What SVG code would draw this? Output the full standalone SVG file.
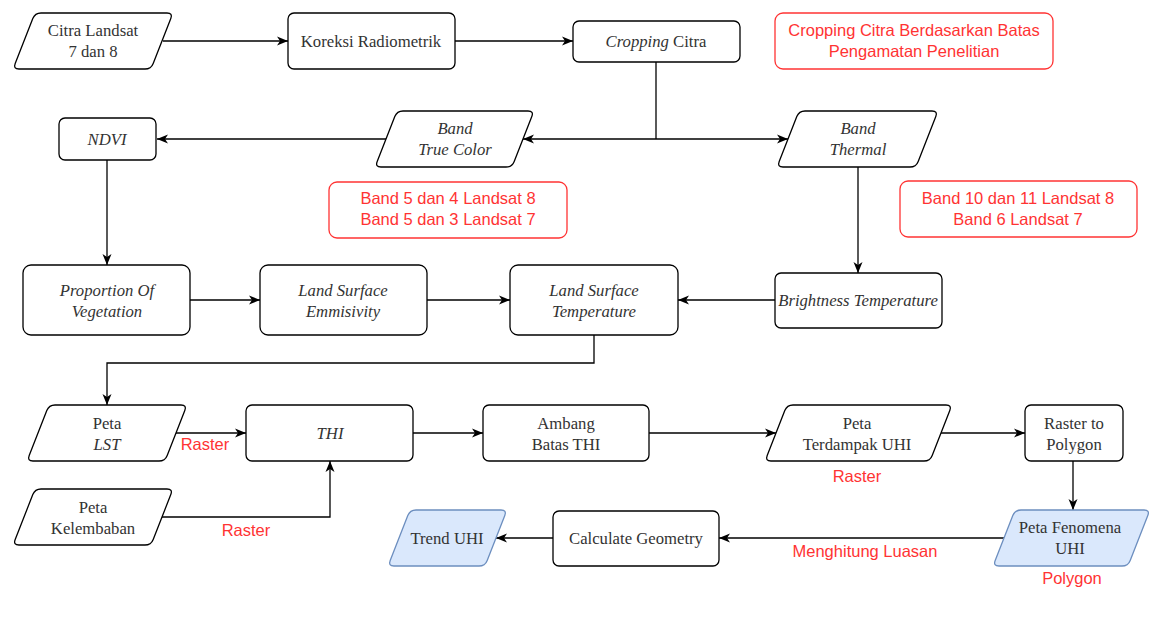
<svg xmlns="http://www.w3.org/2000/svg" width="1151" height="627" viewBox="0 0 1151 627">
<style>
.n{fill:#fff;stroke:#000;stroke-width:1.3}
.b{fill:#dae8fc;stroke:#6c8ebf;stroke-width:1.3}
.r{fill:#fff;stroke:#ff3333;stroke-width:1.3}
.t{font-family:"Liberation Serif",serif;font-size:16.7px;fill:#333;text-anchor:middle}
.i{font-style:italic}
.rt{font-family:"Liberation Sans",Arial,sans-serif;font-size:16.5px;fill:#ff3333;text-anchor:middle}
.c{fill:none;stroke:#000;stroke-width:1.3}
</style>
<defs>
<marker id="a" markerUnits="userSpaceOnUse" markerWidth="12" markerHeight="10" refX="11" refY="5" orient="auto">
<path d="M0,0.5 L11,5 L0,9.5 L3,5 Z" fill="#000"/>
</marker>
</defs>
<rect width="1151" height="627" fill="#fff"/>
<g id="connectors">
<path class="c" d="M163,41 H288" marker-end="url(#a)"/>
<path class="c" d="M455,41 H573" marker-end="url(#a)"/>
<path class="c" d="M656,62 V139"/>
<path class="c" d="M656,139 H523" marker-end="url(#a)"/>
<path class="c" d="M656,139 H788" marker-end="url(#a)"/>
<path class="c" d="M386,139 H157" marker-end="url(#a)"/>
<path class="c" d="M107,160 V265" marker-end="url(#a)"/>
<path class="c" d="M858,167 V273" marker-end="url(#a)"/>
<path class="c" d="M190,300 H260" marker-end="url(#a)"/>
<path class="c" d="M427,300 H510" marker-end="url(#a)"/>
<path class="c" d="M775,300 H678" marker-end="url(#a)"/>
<path class="c" d="M594,335 V363 H107 V405" marker-end="url(#a)"/>
<path class="c" d="M176,433 H246" marker-end="url(#a)"/>
<path class="c" d="M162,517 H330 V461" marker-end="url(#a)"/>
<path class="c" d="M413,433 H483" marker-end="url(#a)"/>
<path class="c" d="M649,433 H776" marker-end="url(#a)"/>
<path class="c" d="M941,433 H1025" marker-end="url(#a)"/>
<path class="c" d="M1073,461 V510" marker-end="url(#a)"/>
<path class="c" d="M1004,538 H719" marker-end="url(#a)"/>
<path class="c" d="M553,538 H496" marker-end="url(#a)"/>
<text class="rt" x="205" y="450">Raster</text>
<text class="rt" x="246" y="536">Raster</text>
<text class="rt" x="857" y="482">Raster</text>
<text class="rt" x="865" y="557">Menghitung Luasan</text>
<text class="rt" x="1072" y="584">Polygon</text>
</g>
<g id="citra">
<path class="n" d="M41,13 L167,13 Q173,13 170.8,18.6 L153.2,63.4 Q151,69 145,69 L19,69 Q13,69 15.2,63.4 L32.8,18.6 Q35,13 41,13 Z"/>
<text class="t" x="93" y="36">Citra Landsat</text>
<text class="t" x="93" y="57">7 dan 8</text>
</g>
<g id="koreksi">
<rect class="n" x="288" y="13" width="167" height="56" rx="6"/>
<text class="t" x="371" y="47">Koreksi Radiometrik</text>
</g>
<g id="cropping">
<rect class="n" x="573" y="21" width="167" height="41" rx="6"/>
<text class="t" x="656" y="47"><tspan class="i">Cropping</tspan> Citra</text>
</g>
<g id="note-cropping">
<rect class="r" x="775" y="13" width="278" height="56" rx="8"/>
<text class="rt" x="914" y="36">Cropping Citra Berdasarkan Batas</text>
<text class="rt" x="914" y="57">Pengamatan Penelitian</text>
</g>
<g id="ndvi">
<rect class="n" x="59" y="118" width="97" height="42" rx="6"/>
<text class="t i" x="107" y="145">NDVI</text>
</g>
<g id="band-true-color">
<path class="n" d="M403,111 L528,111 Q534,111 531.8,116.6 L514.2,161.4 Q512,167 506,167 L381,167 Q375,167 377.2,161.4 L394.8,116.6 Q397,111 403,111 Z"/>
<text class="t i" x="455" y="134">Band</text>
<text class="t i" x="455" y="155">True Color</text>
</g>
<g id="band-thermal">
<path class="n" d="M805,111 L932,111 Q938,111 935.8,116.6 L918.2,161.4 Q916,167 910,167 L783,167 Q777,167 779.2,161.4 L796.8,116.6 Q799,111 805,111 Z"/>
<text class="t i" x="858" y="134">Band</text>
<text class="t i" x="858" y="155">Thermal</text>
</g>
<g id="note-band-tc">
<rect class="r" x="329" y="182" width="238" height="56" rx="8"/>
<text class="rt" x="448" y="204">Band 5 dan 4 Landsat 8</text>
<text class="rt" x="448" y="225">Band 5 dan 3 Landsat 7</text>
</g>
<g id="note-band-th">
<rect class="r" x="900" y="181" width="237" height="56" rx="8"/>
<text class="rt" x="1018" y="204">Band 10 dan 11 Landsat 8</text>
<text class="rt" x="1018" y="225">Band 6 Landsat 7</text>
</g>
<g id="pov">
<rect class="n" x="23" y="265" width="167" height="70" rx="8"/>
<text class="t i" x="107" y="296">Proportion Of</text>
<text class="t i" x="107" y="317">Vegetation</text>
</g>
<g id="lse">
<rect class="n" x="260" y="265" width="167" height="70" rx="8"/>
<text class="t i" x="343" y="296">Land Surface</text>
<text class="t i" x="343" y="317">Emmisivity</text>
</g>
<g id="lst">
<rect class="n" x="510" y="265" width="168" height="70" rx="8"/>
<text class="t i" x="594" y="296">Land Surface</text>
<text class="t i" x="594" y="317">Temperature</text>
</g>
<g id="bt">
<rect class="n" x="775" y="273" width="167" height="55" rx="6"/>
<text class="t i" x="858" y="306">Brightness Temperature</text>
</g>
<g id="peta-lst">
<path class="n" d="M55,405 L181,405 Q187,405 184.8,410.6 L167.2,455.4 Q165,461 159,461 L33,461 Q27,461 29.2,455.4 L46.8,410.6 Q49,405 55,405 Z"/>
<text class="t" x="107" y="429">Peta</text>
<text class="t i" x="107" y="450">LST</text>
</g>
<g id="thi">
<rect class="n" x="246" y="405" width="167" height="56" rx="6"/>
<text class="t i" x="330" y="439">THI</text>
</g>
<g id="kelembaban">
<path class="n" d="M41,489 L167,489 Q173,489 170.8,494.6 L153.2,539.4 Q151,545 145,545 L19,545 Q13,545 15.2,539.4 L32.8,494.6 Q35,489 41,489 Z"/>
<text class="t" x="93" y="513">Peta</text>
<text class="t" x="93" y="534">Kelembaban</text>
</g>
<g id="ambang">
<rect class="n" x="483" y="405" width="166" height="56" rx="6"/>
<text class="t" x="566" y="429">Ambang</text>
<text class="t" x="566" y="450">Batas THI</text>
</g>
<g id="terdampak">
<path class="n" d="M793,405 L946,405 Q952,405 949.8,410.6 L932.2,455.4 Q930,461 924,461 L771,461 Q765,461 767.2,455.4 L784.8,410.6 Q787,405 793,405 Z"/>
<text class="t" x="857" y="429">Peta</text>
<text class="t" x="857" y="450">Terdampak UHI</text>
</g>
<g id="raster-polygon">
<rect class="n" x="1025" y="405" width="98" height="56" rx="6"/>
<text class="t" x="1074" y="429">Raster to</text>
<text class="t" x="1074" y="450">Polygon</text>
</g>
<g id="fenomena">
<path class="b" d="M1021,510 L1144,510 Q1150,510 1147.8,515.6 L1130.2,560.4 Q1128,566 1122,566 L999,566 Q993,566 995.2,560.4 L1012.8,515.6 Q1015,510 1021,510 Z"/>
<text class="t" x="1070" y="533">Peta Fenomena</text>
<text class="t" x="1070" y="554">UHI</text>
</g>
<g id="calc">
<rect class="n" x="553" y="511" width="166" height="55" rx="6"/>
<text class="t" x="636" y="544">Calculate Geometry</text>
</g>
<g id="trend">
<path class="b" d="M416,510 L501,510 Q507,510 504.8,515.6 L487.2,560.4 Q485,566 479,566 L394,566 Q388,566 390.2,560.4 L407.8,515.6 Q410,510 416,510 Z"/>
<text class="t" x="447" y="544">Trend UHI</text>
</g>
</svg>
